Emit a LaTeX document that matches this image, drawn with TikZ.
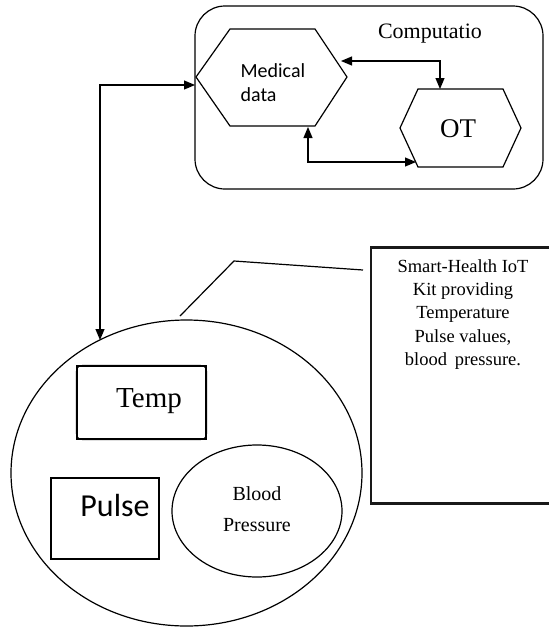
\documentclass[tikz,border=0pt]{standalone}
\usepackage{fontspec}
\setmainfont{Liberation Serif}
\newfontfamily\calib{Carlito}
\usetikzlibrary{arrows.meta,shapes.geometric}

\begin{document}
\begin{tikzpicture}[x=1pt,y=-1pt,line width=1.2pt,
  duotip/.style={{Triangle[length=11pt,width=9pt]}-{Triangle[length=11pt,width=9pt]}},
  plainbox/.style={draw,rectangle,inner sep=0pt},
  oval/.style={draw,ellipse,inner sep=0pt},
  lbl/.style={inner sep=0pt,align=center}]
\useasboundingbox (0,0) rectangle (549,627);
\clip (0,0) rectangle (549,627);

% computation container
\node[draw,rounded corners=30pt,minimum width=348pt,minimum height=183pt,inner sep=0pt]
  (comp) at (369,97.5) {};
\node[lbl,font=\fontsize{22}{24}\selectfont] (comptxt) at (430,34) {Computatio};

% Medical data hexagon
\draw (196,77) -- (230,29) -- (315,29) -- (347,77) -- (315,126) -- (230,126) -- cycle;
\node[inner sep=0pt,align=left,anchor=north west,font=\calib\fontsize{20}{24}\selectfont]
  (med) at (240,63) {Medical\\data};
\coordinate (medL) at (195,85);
\coordinate (medR) at (341,61);
\coordinate (medB) at (308,127);

% OT hexagon
\draw (400,128) -- (418,89) -- (503,89) -- (521,128) -- (503,167) -- (418,167) -- cycle;
\node[lbl,font=\fontsize{27}{30}\selectfont] (ot) at (458,129) {OT};
\coordinate (otT) at (440,89);
\coordinate (otB) at (416,162);

% arrows inside the container
\draw[duotip] (medR) -| (otT);
\draw[duotip] (medB) |- (otB);

% IoT kit
\node[oval,minimum width=351pt,minimum height=306pt] (kit) at (186.5,473) {};
\coordinate (kitT) at (100,340);
\draw[duotip] (medL) -| (kitT);

% sensors
\node[plainbox,minimum width=129pt,minimum height=73pt] (temp) at (141.5,402.5) {};
\draw[rounded corners=6pt,line width=0.9pt] (temp.south west) rectangle (temp.north east);
\node[lbl,font=\fontsize{29}{30}\selectfont] (temptxt) at (149,401) {Temp};

\node[plainbox,minimum width=108pt,minimum height=81pt] (pulse) at (105,518.5) {};
\node[lbl,font=\calib\fontsize{32}{34}\selectfont] (pulsetxt) at (115,506) {Pulse};

\node[oval,minimum width=170pt,minimum height=132pt] (bp) at (257,511) {};
\node[lbl,font=\fontsize{20}{31}\selectfont] (bptxt) at (257,509) {Blood\\Pressure};

% callout
\node[draw=black!90,line width=2.2pt,rectangle,inner sep=0pt,minimum width=190pt,
  minimum height=256pt] (note) at (466,375.5) {};
\node[lbl,font=\fontsize{18.5}{23.3}\selectfont] (notetxt) at (463,314.5)
  {Smart-Health IoT\\Kit providing\\Temperature\\Pulse values,\\blood\ \,pressure.};
\coordinate (leadA) at (180,316);
\coordinate (leadB) at (234,261);
\coordinate (leadC) at (363,270);
\draw (leadA) -- (leadB) -- (leadC);
\end{tikzpicture}
\end{document}
